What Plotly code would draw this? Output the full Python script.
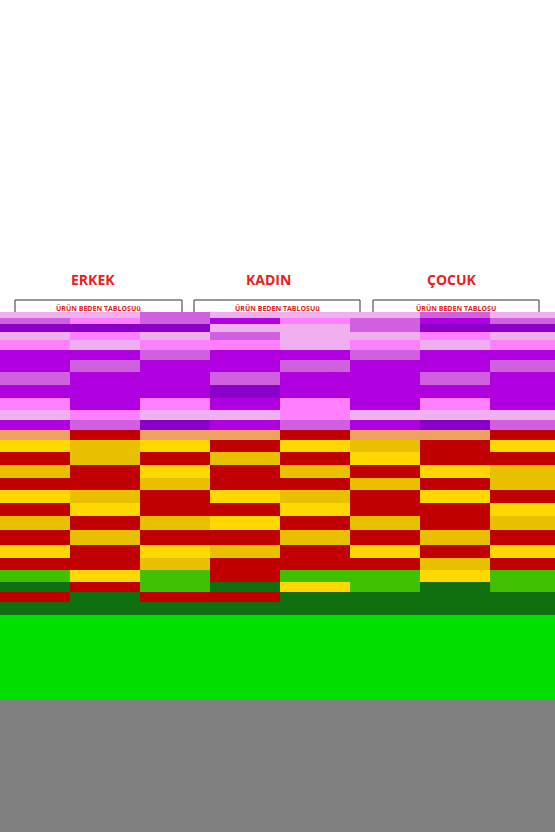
import plotly.graph_objects as go

# colour codes used by the strip rows
palette = ["#ffffff", "#f0b0f0", "#d060e0", "#b000e0", "#8a00c8", "#ff80ff",
           "#f0a060", "#c00000", "#e8c000", "#ffd800", "#40c000", "#107010",
           "#00e000", "#808080"]

# band edges (image rows) and the colour codes along each band, left to right
band_edges = [312, 318, 324, 332, 340, 350, 360, 372, 385, 398, 410, 420, 430, 440,
              452, 465, 478, 490, 503, 516, 530, 545, 558, 570, 582, 592, 602, 615, 700, 832]
band_codes = [
    [1, 1, 2, 1, 1, 1, 2, 1],
    [2, 5, 2, 3, 5, 2, 3, 2],
    [4, 4, 4, 1, 1, 2, 4, 4],
    [1, 5, 1, 2, 1, 1, 5, 1],
    [5, 1, 5, 5, 1, 5, 1, 5],
    [3, 3, 2, 3, 3, 2, 3, 3],
    [3, 2, 3, 3, 2, 3, 3, 2],
    [2, 3, 3, 2, 3, 3, 2, 3],
    [3, 3, 3, 4, 3, 3, 3, 3],
    [5, 3, 5, 3, 5, 3, 5, 3],
    [1, 5, 1, 1, 5, 1, 1, 1],
    [3, 2, 4, 3, 2, 3, 4, 2],
    [6, 7, 6, 6, 7, 6, 6, 7],
    [9, 8, 9, 7, 9, 8, 7, 9],
    [7, 8, 7, 8, 7, 9, 7, 7],
    [8, 7, 9, 7, 8, 7, 9, 8],
    [7, 7, 8, 7, 7, 8, 7, 8],
    [9, 8, 7, 9, 8, 7, 9, 7],
    [7, 9, 7, 7, 9, 7, 7, 9],
    [8, 7, 8, 9, 7, 8, 7, 8],
    [7, 8, 7, 7, 8, 7, 8, 7],
    [9, 7, 9, 8, 7, 9, 7, 9],
    [7, 7, 8, 7, 7, 7, 8, 7],
    [10, 9, 10, 7, 10, 10, 9, 10],
    [11, 7, 10, 11, 9, 10, 11, 10],
    [7, 11, 7, 7, 11, 11, 11, 11],
    [11, 11, 11, 11, 11, 11, 11, 11],
    [12, 12, 12, 12, 12, 12, 12, 12],
    [13, 13, 13, 13, 13, 13, 13, 13],
]
column_edges = [0, 70, 140, 210, 280, 350, 420, 490, 555]

titles = ["ERKEK", "KADIN", "ÇOCUK"]
title_x = [93, 268, 452]
table_labels = ["ÜRÜN BEDEN TABLOSUü", "ÜRÜN BEDEN TABLOSUü", "ÜRÜN BEDEN TABLOSU"]
box_x = [(15, 182), (194, 360), (373, 539)]

n = len(palette)
scale = []
for i, c in enumerate(palette):
    scale += [[i / n, c], [(i + 1) / n, c]]

fig = go.Figure(go.Heatmap(
    x=column_edges, y=band_edges, z=band_codes, zmin=0, zmax=n,
    colorscale=scale, showscale=False, hoverinfo="skip"))

for t, x in zip(titles, title_x):
    fig.add_annotation(x=x, y=279, text="<b>" + t + "</b>", showarrow=False,
                       font=dict(family="Open Sans", size=14, color="#e82020"))
for lab, (x0, x1) in zip(table_labels, box_x):
    fig.add_shape(type="rect", x0=x0, x1=x1, y0=300, y1=314,
                  line=dict(color="#333333", width=1), fillcolor="white", layer="below")
    fig.add_annotation(x=(x0 + x1) / 2, y=308, text="<b>" + lab + "</b>", showarrow=False,
                       font=dict(family="Open Sans", size=7, color="#e82020"))

fig.update_xaxes(range=[0, 555], visible=False)
fig.update_yaxes(range=[832, 0], visible=False)
fig.update_layout(width=555, height=832, margin=dict(l=0, r=0, t=0, b=0),
                  plot_bgcolor="white", paper_bgcolor="white")

# drop the browser's default 8px body margin so the picture fills the window
fig.write_html("out.html", config={"displayModeBar": False},
               post_script="document.body.style.margin='0';")
